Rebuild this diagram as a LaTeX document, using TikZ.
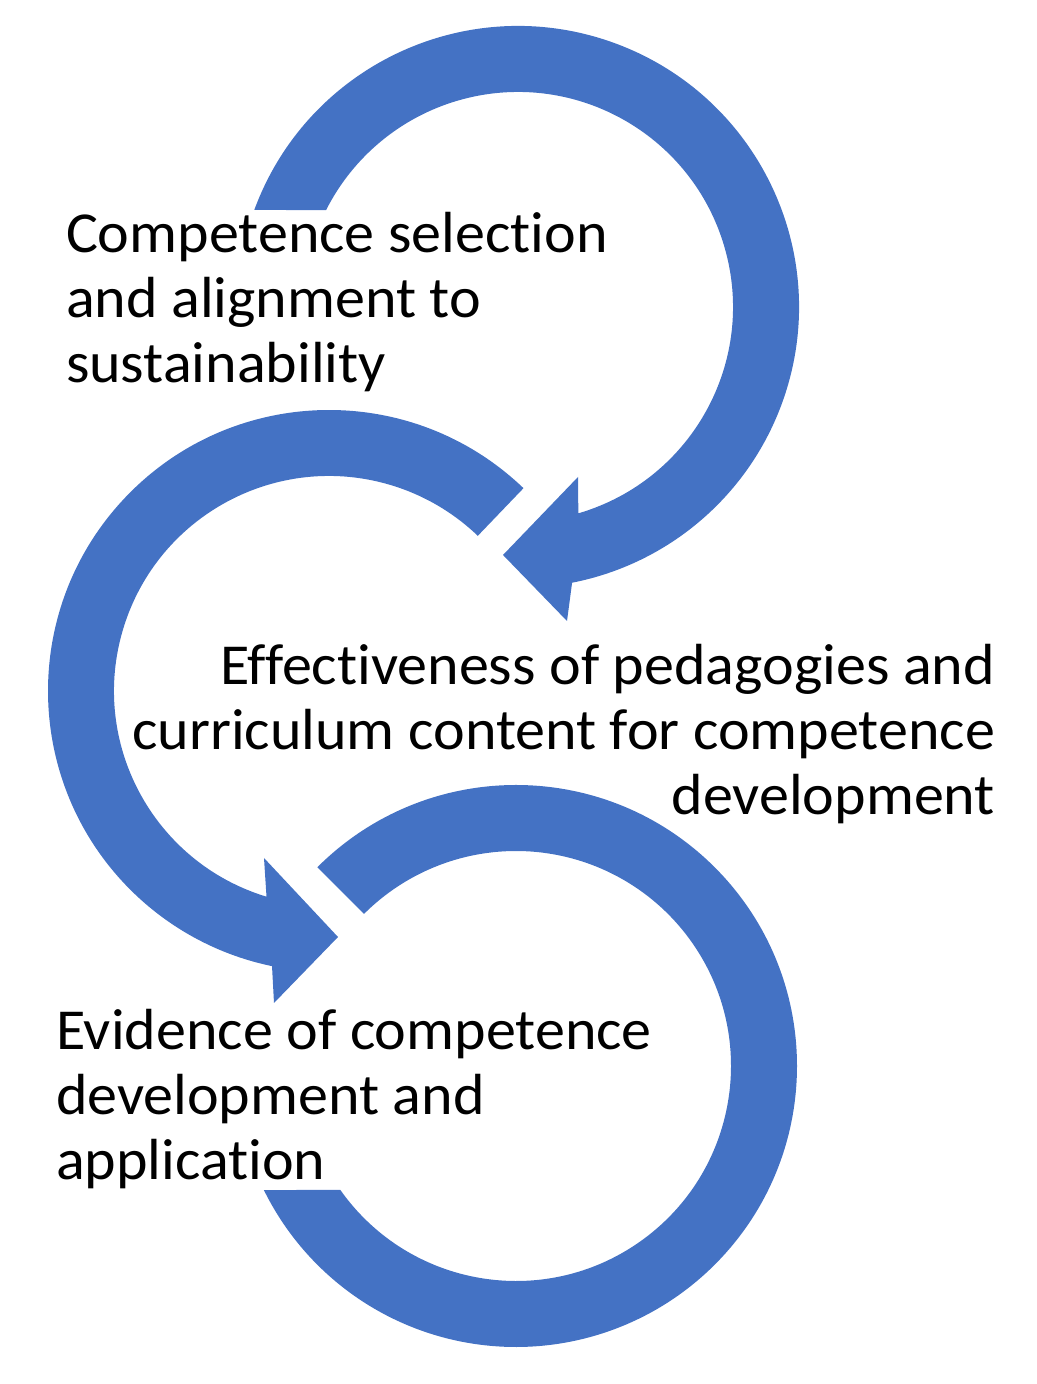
\documentclass[tikz,border=0pt]{standalone}
\usepackage{fontspec}
\setmainfont{Carlito}[Ligatures=NoCommon, FakeStretch=1.035]
\definecolor{arrowblue}{RGB}{68,114,196}
\tikzset{
  ringarrow/.style={fill=arrowblue, draw=none},
  label/.style={inner sep=0pt, outer sep=0pt, font=\fontsize{58}{65}\selectfont, text=black}
}
\begin{document}
\begin{tikzpicture}[x=1pt,y=1pt]
\useasboundingbox (0,0) rectangle (1036,1384);
% centres of the three rings
\coordinate (c1) at (518,1077);
\coordinate (c2) at (329,693);
\coordinate (c3) at (516,318);
% arrow-head points
\coordinate (h1tip) at (503,829);
\coordinate (h1in)  at (578,907);
\coordinate (h1out) at (567,763);
\coordinate (h2tip) at (338,447);
\coordinate (h2in)  at (264,526);
\coordinate (h2out) at (274,381);
% ring 1
\fill[ringarrow] ([shift={(159.8:281)}]c1) arc[start angle=159.8, end angle=-78.9, radius=281]
  -- (h1out) -- (h1tip) -- (h1in)
  -- ([shift={(-73.7:215)}]c1) arc[start angle=-73.7, end angle=153.2, radius=215] -- cycle;
% ring 2
\fill[ringarrow] ([shift={(46.2:281)}]c2) arc[start angle=46.2, end angle=258.3, radius=281]
  -- (h2out) -- (h2tip) -- (h2in)
  -- ([shift={(253.1:215)}]c2) arc[start angle=253.1, end angle=46.2, radius=215] -- cycle;
% ring 3
\fill[ringarrow] ([shift={(135:281)}]c3) arc[start angle=135, end angle=-153.8, radius=281]
  -- ([shift={(-144.8:215)}]c3) arc[start angle=-144.8, end angle=135, radius=215] -- cycle;
% texts
\node[label, anchor=base west] (t1) at (66,1131)
  {\begin{tabular}[t]{@{}l@{}}Competence selection\\ and alignment to\\ sustainability\end{tabular}};
\node[label, anchor=base east] (t2) at (995,699)
  {\begin{tabular}[t]{@{}r@{}}Effectiveness of pedagogies and\\ curriculum content for competence\\ development\end{tabular}};
\node[label, anchor=base west] (t3) at (56,334)
  {\begin{tabular}[t]{@{}l@{}}Evidence of competence\\ development and\\ application\end{tabular}};
\end{tikzpicture}
\end{document}
